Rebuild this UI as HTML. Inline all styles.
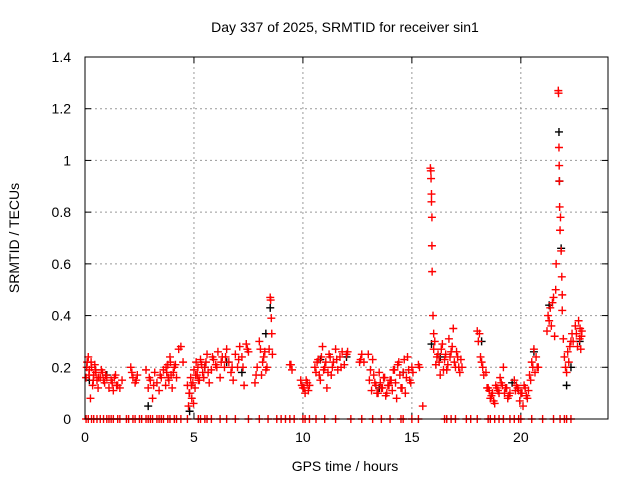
<!DOCTYPE html>
<html><head><meta charset="utf-8"><style>
body{margin:0;background:#fff;}
svg text{font-family:"Liberation Sans",sans-serif;font-size:14px;fill:#000;}
</style></head><body>
<svg width="640" height="480" xmlns="http://www.w3.org/2000/svg">
<text x="345" y="32" text-anchor="middle">Day 337 of 2025, SRMTID for receiver sin1</text>
<g id="grid"></g>
<g id="axes"></g>
<g id="black"></g>
<g id="red"></g>
<rect x="85" y="57" width="523" height="362" fill="none" stroke="#000" stroke-width="1"/>
<text x="345" y="471" text-anchor="middle">GPS time / hours</text>
<text transform="translate(19,238) rotate(-90)" text-anchor="middle">SRMTID / TECUs</text>
</svg>
<script>
const xTicks=[0,5,10,15,20];
const yTicks=[0,0.2,0.4,0.6,0.8,1,1.2,1.4];
const yTickLabels=["0","0.2","0.4","0.6","0.8","1","1.2","1.4"];
const redPoints=[
[0.05,0.16],[0.08,0.2],[0.1,0.22],[0.15,0.24],[0.18,0.17],[0.2,0.19],[0.25,0.08],[0.28,0.22],[0.3,0.2],[0.35,0.13],[0.38,0.15],[0.4,0.17],[0.45,0.21],[0.48,0.19],[0.5,0.18],[0.55,0.15],[0.6,0.12],[0.62,0.16],[0.7,0.16],[0.75,0.19],[0.8,0.18],[0.85,0.15],[0.9,0.14],[0.95,0.17],[1.0,0.16],[1.1,0.12],[1.2,0.15],[1.25,0.14],[1.3,0.11],[1.35,0.16],[1.4,0.17],[1.45,0.13],[1.5,0.13],[1.6,0.12],[1.7,0.15],
[2.1,0.2],[2.15,0.18],[2.2,0.16],[2.3,0.14],[2.35,0.15],[2.4,0.17],
[2.8,0.19],[2.9,0.12],[2.95,0.16],[3.0,0.15],[3.1,0.08],[3.15,0.13],[3.2,0.18],[3.3,0.14],[3.4,0.11],[3.45,0.17],[3.5,0.16],[3.6,0.19],[3.7,0.13],[3.72,0.2],[3.75,0.18],[3.8,0.21],[3.82,0.16],[3.85,0.15],[3.9,0.24],[3.92,0.22],[3.95,0.17],[4.0,0.12],[4.05,0.18],[4.1,0.2],[4.15,0.21],[4.2,0.16],[4.3,0.27],[4.4,0.28],[4.5,0.22],
[4.7,0.13],[4.75,0.05],[4.78,0.1],[4.8,0.1],[4.85,0.16],[4.88,0.13],[4.9,0.08],[4.95,0.14],[4.98,0.06],[5.0,0.19],[5.05,0.12],[5.08,0.17],[5.1,0.22],[5.15,0.17],[5.18,0.2],[5.2,0.15],[5.25,0.15],[5.3,0.23],[5.35,0.21],[5.4,0.18],[5.45,0.16],[5.5,0.2],[5.55,0.22],[5.6,0.25],[5.65,0.18],[5.7,0.14],[5.8,0.19],[5.85,0.24],[5.9,0.23],
[6.0,0.21],[6.05,0.2],[6.1,0.26],[6.2,0.16],[6.25,0.22],[6.3,0.24],[6.4,0.2],[6.45,0.24],[6.5,0.27],[6.6,0.22],[6.7,0.18],[6.75,0.2],[6.8,0.15],[6.9,0.25],[7.0,0.2],[7.05,0.23],[7.1,0.28],[7.2,0.24],[7.25,0.2],[7.3,0.13],[7.4,0.29],[7.45,0.27],[7.5,0.26],
[7.8,0.14],[7.85,0.17],[7.9,0.2],[8.0,0.3],[8.05,0.27],[8.1,0.17],[8.15,0.22],[8.2,0.24],[8.25,0.26],[8.3,0.19],[8.35,0.2],[8.45,0.27],[8.5,0.47],[8.52,0.46],[8.55,0.39],[8.57,0.33],[8.6,0.25],
[9.4,0.21],[9.45,0.21],[9.5,0.19],
[9.9,0.15],[9.95,0.13],[10.0,0.12],[10.05,0.12],[10.1,0.1],[10.15,0.15],[10.2,0.14],[10.25,0.11],[10.3,0.13],
[10.55,0.2],[10.6,0.18],[10.65,0.22],[10.7,0.23],[10.75,0.17],[10.8,0.15],[10.85,0.24],[10.9,0.28],[10.95,0.19],[11.0,0.2],[11.05,0.22],[11.1,0.12],[11.15,0.18],[11.2,0.25],[11.25,0.24],[11.3,0.17],[11.35,0.2],[11.4,0.22],[11.5,0.27],[11.55,0.23],[11.6,0.19],[11.7,0.24],[11.75,0.2],[11.8,0.26],[11.9,0.21],[12.0,0.25],[12.05,0.26],
[12.6,0.22],[12.65,0.23],[12.7,0.25],[12.8,0.22],
[13.0,0.25],[13.05,0.15],[13.1,0.19],[13.15,0.11],[13.2,0.23],[13.25,0.17],[13.3,0.14],[13.35,0.13],[13.4,0.1],[13.45,0.1],[13.5,0.18],[13.55,0.14],[13.6,0.12],[13.65,0.12],[13.7,0.16],[13.75,0.16],[13.8,0.09],[13.85,0.1],[13.9,0.13],[13.95,0.13],[14.0,0.15],[14.05,0.15],[14.1,0.11],[14.15,0.19],[14.2,0.19],[14.25,0.14],[14.3,0.08],[14.35,0.21],[14.4,0.22],[14.45,0.17],[14.5,0.12],[14.55,0.12],[14.6,0.18],[14.65,0.23],[14.7,0.1],[14.75,0.16],[14.8,0.24],[14.85,0.19],[14.9,0.15],[14.95,0.14],[15.0,0.2],[15.05,0.18],
[15.3,0.21],[15.35,0.2],[15.5,0.05],
[15.85,0.97],[15.87,0.96],[15.88,0.93],[15.9,0.87],[15.9,0.84],[15.92,0.78],[15.92,0.67],[15.93,0.57],[15.97,0.4],[16.0,0.33],[16.0,0.27],[16.05,0.3],[16.1,0.21],[16.15,0.24],[16.2,0.25],[16.25,0.22],[16.3,0.17],[16.35,0.27],[16.4,0.29],[16.45,0.19],[16.5,0.23],[16.55,0.25],[16.6,0.19],[16.65,0.21],[16.7,0.31],[16.75,0.24],[16.8,0.26],[16.85,0.28],[16.9,0.35],[16.95,0.22],[17.0,0.2],[17.05,0.26],[17.1,0.24],[17.15,0.2],[17.2,0.18],[17.25,0.23],[17.3,0.2],
[18.0,0.34],[18.05,0.3],[18.1,0.33],[18.15,0.24],[18.2,0.22],[18.25,0.2],[18.3,0.17],[18.4,0.18],[18.45,0.12],[18.5,0.12],[18.55,0.11],[18.6,0.08],[18.65,0.09],[18.7,0.1],[18.75,0.07],[18.8,0.06],[18.85,0.13],[18.9,0.12],[18.95,0.11],[19.0,0.1],[19.05,0.16],[19.1,0.14],[19.15,0.13],[19.2,0.2],[19.25,0.1],[19.3,0.12],[19.35,0.12],[19.4,0.08],[19.45,0.09],[19.5,0.1],
[19.7,0.15],[19.75,0.11],[19.8,0.13],[19.85,0.12],[19.9,0.11],[19.95,0.07],[20.0,0.1],[20.05,0.1],[20.1,0.05],[20.15,0.13],[20.2,0.12],[20.25,0.09],[20.3,0.08],[20.35,0.11],[20.4,0.17],[20.45,0.15],[20.5,0.22],[20.55,0.2],[20.6,0.27],[20.65,0.18],[20.7,0.24],[20.75,0.2],[20.8,0.2],
[21.2,0.34],[21.25,0.4],[21.3,0.38],[21.35,0.43],[21.4,0.36],[21.45,0.45],[21.5,0.47],[21.55,0.32],[21.6,0.5],[21.62,0.6],
[21.72,1.27],[21.73,1.26],[21.75,1.05],[21.76,0.98],[21.77,0.92],[21.78,0.82],[21.8,0.73],[21.82,0.78],[21.85,0.65],[21.88,0.55],[21.9,0.48],[21.9,0.42],[21.95,0.31],[22.0,0.24],[22.05,0.2],[22.1,0.18],[22.15,0.26],[22.2,0.22],[22.25,0.28],[22.3,0.3],[22.35,0.33],
[22.4,0.3],[22.5,0.36],[22.55,0.33],[22.6,0.28],[22.65,0.38],[22.7,0.31],[22.72,0.35],[22.75,0.27],[22.78,0.32],[22.8,0.34]
];
const blackTimes=[0.2,1.0,2.9,4.8,5.5,6.5,7.2,8.3,8.5,10.8,12.0,13.5,14.6,15.9,16.3,18.2,19.6,20.6,21.3,21.75,21.77,21.85,22.1,22.3,22.7];
const blackValues=[0.15,0.17,0.05,0.03,0.2,0.22,0.18,0.33,0.43,0.23,0.24,0.12,0.18,0.29,0.24,0.3,0.14,0.26,0.44,1.11,0.92,0.66,0.13,0.2,0.3];
const zeroTimes=[0.05,0.15,0.3,0.4,0.55,0.7,0.85,1.0,1.1,1.2,1.3,1.5,1.6,1.9,2.0,2.2,2.3,2.5,2.6,2.8,2.9,3.0,3.1,3.3,3.4,3.5,3.6,3.8,3.9,4.1,4.2,4.4,4.7,5.2,5.3,5.5,5.6,5.8,6.2,6.5,6.9,7.5,8.0,8.4,8.8,9.0,9.2,9.4,9.6,10.0,10.1,10.3,10.6,11.0,11.5,12.2,12.7,13.2,13.6,14.0,14.5,14.6,15.0,15.3,16.5,16.6,16.8,17.0,17.5,17.7,18.0,18.5,18.6,18.8,19.0,19.2,19.5,19.7,19.9,20.0,20.5,21.0,21.5,21.8,22.0,22.1,22.3];
const NS='http://www.w3.org/2000/svg';
const X0=85,X1=608,Y0=419,Y1=57;
function xs(h){return X0+(h/24)*(X1-X0);}
function ys(v){return Y0-(v/1.4)*(Y0-Y1);}
function mk(tag,at,p){const e=document.createElementNS(NS,tag);for(const k in at)e.setAttribute(k,at[k]);p.appendChild(e);return e;}
const grid=document.getElementById('grid'),axes=document.getElementById('axes');
xTicks.forEach(t=>{const x=xs(t);
 if(t>0){const l=mk('line',{x1:x,x2:x,y1:Y1,y2:Y0,stroke:'#999','stroke-dasharray':'2,3'},grid);
 
 }
 mk('line',{x1:x,x2:x,y1:Y0,y2:Y0-6,stroke:'#000'},axes);
 mk('line',{x1:x,x2:x,y1:Y1,y2:Y1+6,stroke:'#000'},axes);
 const tx=mk('text',{x:x,y:Y0+23,'text-anchor':'middle'},axes);tx.textContent=t;
 
 
});
yTicks.forEach((t,i)=>{const y=ys(t);
 if(t>0&&t<1.4){const l=mk('line',{x1:X0,x2:X1,y1:y,y2:y,stroke:'#999','stroke-dasharray':'2,3'},grid);
 
 }
 mk('line',{x1:X0,x2:X0+6,y1:y,y2:y,stroke:'#000'},axes);
 mk('line',{x1:X1,x2:X1-6,y1:y,y2:y,stroke:'#000'},axes);
 const tx=mk('text',{x:X0-14,y:y+5,'text-anchor':'end'},axes);tx.textContent=yTickLabels[i];
 
 
});
function plus(g,x,y,c){return mk('path',{d:`M${x-4},${y}H${x+4}M${x},${y-4}V${y+4}`,stroke:c,'stroke-width':1.4,fill:'none'},g);}
const bg=document.getElementById('black'),rg=document.getElementById('red');
blackTimes.forEach((t,i)=>{const p=plus(bg,xs(t),ys(blackValues[i]),'#000');
 
 });
redPoints.forEach(pt=>{const p=plus(rg,xs(pt[0]),ys(pt[1]),'#f00');
 
 });
zeroTimes.forEach(t=>{const p=plus(rg,xs(t),ys(0),'#f00');
 
 });
</script>
</body></html>
